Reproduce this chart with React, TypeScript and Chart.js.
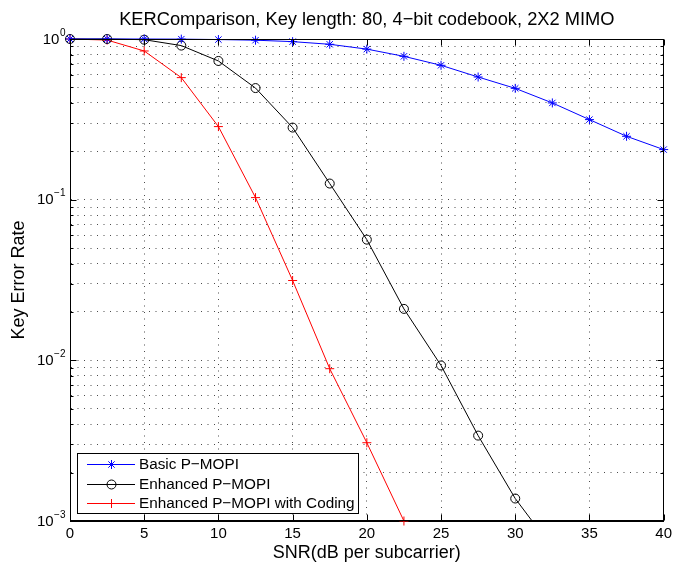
import React, { useEffect, useRef } from "react";
import { Chart, registerables } from "chart.js";

Chart.register(...registerables);

// ---- data ----
const snr = [0, 2.5, 5, 7.5, 10, 12.5, 15, 17.5, 20, 22.5, 25, 27.5, 30, 32.5, 35, 37.5, 40];
const basicKER = [1, 1, 1, 0.998, 0.992, 0.983, 0.963, 0.927, 0.865, 0.78, 0.686, 0.58, 0.493, 0.4, 0.315, 0.248, 0.205];
const enhancedKER = [1, 1, 0.99, 0.91, 0.73, 0.495, 0.281, 0.126, 0.0564, 0.0209, 0.00929, 0.0034, 0.00138, 0.00068];
const codedKER = [1, 0.985, 0.842, 0.575, 0.285, 0.103, 0.0314, 0.00887, 0.00307, 0.001];

const seriesNames = ["Basic P\u2212MOPI", "Enhanced P\u2212MOPI", "Enhanced P\u2212MOPI with Coding"];
const seriesColors = ["#0000ff", "#000000", "#ff0000"];
const seriesMarkers = ["star", "circle", "cross"];

const xTicks = [0, 5, 10, 15, 20, 25, 30, 35, 40];
const yDecades = [1, 0.1, 0.01, 0.001];
const yExponents = ["0", "\u22121", "\u22122", "\u22123"];
const yGrid = [
  0.001, 0.002, 0.003, 0.004, 0.005, 0.006, 0.007, 0.008, 0.009,
  0.01, 0.02, 0.03, 0.04, 0.05, 0.06, 0.07, 0.08, 0.09,
  0.1, 0.2, 0.3, 0.4, 0.5, 0.6, 0.7, 0.8, 0.9, 1,
];

const titleText = "KERComparison, Key length: 80, 4\u2212bit codebook, 2X2 MIMO";
const xTitle = "SNR(dB per subcarrier)";
const yTitle = "Key Error Rate";

const FONT = '"Liberation Sans", Arial, Helvetica, sans-serif';

function toPoints(ys: number[]) {
  return ys.map((y, i) => ({ x: snr[i], y }));
}

function drawMarker(ctx: CanvasRenderingContext2D, style: string, x: number, y: number, r: number) {
  ctx.beginPath();
  if (style === "circle") {
    ctx.arc(x, y, r, 0, Math.PI * 2);
  } else if (style === "cross") {
    ctx.moveTo(x - r, y);
    ctx.lineTo(x + r, y);
    ctx.moveTo(x, y - r);
    ctx.lineTo(x, y + r);
  } else {
    const d = r * Math.cos(Math.PI / 4);
    ctx.moveTo(x - r, y);
    ctx.lineTo(x + r, y);
    ctx.moveTo(x, y - r);
    ctx.lineTo(x, y + r);
    ctx.moveTo(x - d, y - d);
    ctx.lineTo(x + d, y + d);
    ctx.moveTo(x - d, y + d);
    ctx.lineTo(x + d, y - d);
  }
  ctx.stroke();
}

const matlabPlugin = {
  id: "matlabFrame",
  afterDraw(chart: any) {
    const { ctx, chartArea: a, scales } = chart;
    const xs = scales.x;
    const ys = scales.y;
    const L = Math.round(a.left) + 0.5;
    const R = Math.round(a.right) - 0.5;
    const T = Math.round(a.top) + 0.5;
    const B = Math.round(a.bottom) - 0.5;
    ctx.save();
    ctx.strokeStyle = "#000";
    ctx.lineWidth = 1;
    ctx.setLineDash([]);
    ctx.strokeRect(L, T, R - L, B - T);
    // x ticks (inward, bottom & top)
    ctx.beginPath();
    for (const v of xTicks) {
      const px = Math.round(xs.getPixelForValue(v)) + 0.5;
      ctx.moveTo(px, B);
      ctx.lineTo(px, B - 6);
      ctx.moveTo(px, T);
      ctx.lineTo(px, T + 6);
    }
    // y ticks
    for (const v of yGrid) {
      const py = Math.round(ys.getPixelForValue(v)) + 0.5;
      const len = yDecades.includes(v) ? 6 : 3;
      ctx.moveTo(L, py);
      ctx.lineTo(L + len, py);
      ctx.moveTo(R, py);
      ctx.lineTo(R - len, py);
    }
    ctx.stroke();

    // y tick labels 10^k
    ctx.fillStyle = "#000";
    ctx.textAlign = "right";
    ctx.textBaseline = "middle";
    yDecades.forEach((v, i) => {
      const py = ys.getPixelForValue(v);
      ctx.font = `10px ${FONT}`;
      const w = ctx.measureText(yExponents[i]).width;
      ctx.fillText(yExponents[i], 65.5, py - 6);
      ctx.font = `15px ${FONT}`;
      ctx.fillText("10", 65.5 - w - 0.5, py + 0.5);
    });

    // title
    ctx.font = `18.3px ${FONT}`;
    ctx.textAlign = "center";
    ctx.textBaseline = "middle";
    ctx.fillText(titleText, (a.left + a.right) / 2, 19.7);

    // legend
    const lx = 77.5, ly = 453.5, lw = 281, lh = 60;
    ctx.fillStyle = "#fff";
    ctx.fillRect(lx, ly, lw, lh);
    ctx.strokeStyle = "#000";
    ctx.strokeRect(lx, ly, lw, lh);
    const rows = [464, 484, 503];
    ctx.font = `15.3px ${FONT}`;
    ctx.textAlign = "left";
    ctx.textBaseline = "middle";
    seriesNames.forEach((name, i) => {
      const y = rows[i] + 0.5;
      ctx.strokeStyle = seriesColors[i];
      ctx.lineWidth = 1;
      ctx.beginPath();
      ctx.moveTo(87, y);
      ctx.lineTo(135, y);
      ctx.stroke();
      drawMarker(ctx, seriesMarkers[i], 111.5, y, 4.5);
      ctx.fillStyle = "#000";
      ctx.fillText(name, 139, rows[i] + 0.5);
    });
    ctx.restore();
  },
};

export default function App() {
  const ref = useRef<HTMLCanvasElement | null>(null);

  useEffect(() => {
    if (!ref.current) return;
    const series = [basicKER, enhancedKER, codedKER];
    const chart = new Chart(ref.current, {
      type: "line",
      data: {
        datasets: series.map((s, i) => ({
          label: seriesNames[i],
          data: toPoints(s),
          borderColor: seriesColors[i],
          backgroundColor: "transparent",
          borderWidth: 1,
          pointStyle: seriesMarkers[i] as any,
          pointRadius: 4.5,
          pointHoverRadius: 4.5,
          pointBorderColor: seriesColors[i],
          pointBackgroundColor: "transparent",
          pointBorderWidth: 1,
          tension: 0,
          fill: false,
          clip: { left: 8, top: 8, right: 8, bottom: i === 1 ? 0 : 8 } as any,
        })),
      },
      options: {
        animation: false,
        responsive: false,
        devicePixelRatio: 1,
        layout: { padding: { top: 39, right: 10, left: 0, bottom: 0 } },
        plugins: {
          legend: { display: false },
          title: { display: false },
          tooltip: { enabled: false },
        },
        events: [],
        scales: {
          x: {
            type: "linear",
            min: 0,
            max: 40,
            afterBuildTicks: (axis: any) => {
              axis.ticks = xTicks.map((v) => ({ value: v }));
            },
            afterFit: (axis: any) => {
              axis.height = 44;
            },
            ticks: {
              color: "#000",
              font: { family: FONT, size: 15 },
              padding: 4,
              maxRotation: 0,
              autoSkip: false,
              callback: (v: any) => String(v),
            },
            grid: {
              color: "rgba(0,0,0,0.7)",
              lineWidth: 1,
              drawTicks: false,
            },
            border: { display: true, color: "#000", width: 1, dash: [1, 5.5] },
            title: {
              display: true,
              text: xTitle,
              color: "#000",
              font: { family: FONT, size: 18 },
              padding: { top: 0, bottom: 1 },
            },
          },
          y: {
            type: "logarithmic",
            min: 0.001,
            max: 1,
            afterBuildTicks: (axis: any) => {
              axis.ticks = yGrid.map((v) => ({ value: v, major: yDecades.includes(v) }));
            },
            afterFit: (axis: any) => {
              axis.width = 70;
            },
            ticks: { display: false },
            grid: {
              color: "rgba(0,0,0,0.7)",
              lineWidth: 1,
              drawTicks: false,
            },
            border: { display: true, color: "#000", width: 1, dash: [1, 5.5] },
            title: {
              display: true,
              text: yTitle,
              color: "#000",
              font: { family: FONT, size: 18 },
              padding: { top: 8, bottom: 0 },
            },
          },
        },
      },
      plugins: [matlabPlugin],
    });
    return () => chart.destroy();
  }, []);

  return (
    <div style={{ position: "absolute", left: 0, top: 0, width: 676, height: 565, background: "#fff" }}>
      <canvas ref={ref} width={676} height={565} />
    </div>
  );
}
